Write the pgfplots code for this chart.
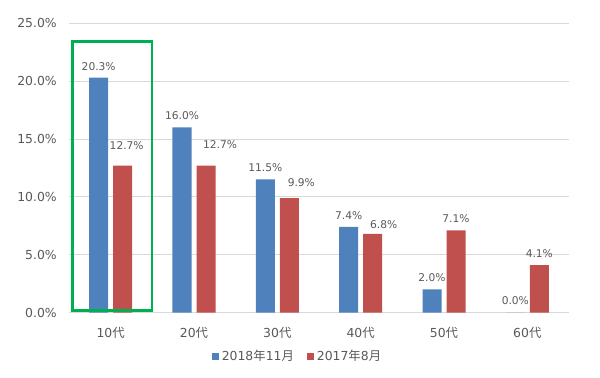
\documentclass[border=0pt]{standalone}
\usepackage{pgfplots}
\pgfplotsset{compat=1.18}
\usepackage{pgfplotstable}
\usepackage{fontspec}
\setmainfont{DejaVu Sans}
\newfontfamily\cjk{Noto Sans CJK JP}
\definecolor{cblue}{HTML}{4F81BD}
\definecolor{cred}{HTML}{C0504D}
\definecolor{ctext}{HTML}{595959}
\definecolor{cgrid}{HTML}{D9D9D9}
\definecolor{cgreen}{HTML}{00B050}

\pgfplotstableread{
x y dx off
0 20.3 0 8.6
1 16.0 0 8.6
2 11.5 0 8.6
3 7.4 0 8.6
4 2.0 0 8.6
5 0.0 0 8.6
}\blue
\pgfplotstableread{
x y dx off
0 12.7 3 14.8
1 12.7 10.5 15.8
2 9.9 9 11.3
3 6.8 8.3 7.1
4 7.1 0 9
5 4.1 0 8.6
}\red

\begin{document}
\begin{tikzpicture}
\path[use as bounding box] (-51.75pt,-48.4pt) rectangle (398.25pt,234.4pt);
\begin{axis}[
  at={(0,0)}, anchor=south west,
  scale only axis, width=375pt, height=216.9pt,
  xmin=-0.5, xmax=5.5, ymin=0, ymax=25,
  axis line style={draw=none},
  major tick length=0pt,
  ymajorgrids, grid style={cgrid, line width=0.75pt},
  ytick={0,5,10,15,20,25},
  yticklabels={0.0\%,5.0\%,10.0\%,15.0\%,20.0\%,25.0\%},
  xtick={0,1,2,3,4,5},
  xticklabels={10{\cjk 代},20{\cjk 代},30{\cjk 代},40{\cjk 代},50{\cjk 代},60{\cjk 代}},
  yticklabel style={font=\fontsize{9.3}{10}\selectfont, text=ctext, inner sep=0pt, xshift=-9pt},
  xticklabel style={font=\fontsize{9.3}{10}\selectfont, text=ctext, inner sep=0pt, anchor=north, yshift=-10.5pt},
  ybar, bar width=14.25pt,
  clip=false,
  nodes near coords={\pgfmathprintnumber[fixed,fixed zerofill,precision=1,assume math mode=true]{\pgfplotspointmeta}\%},
  visualization depends on={\thisrow{dx} \as \dx},
  visualization depends on={\thisrow{off} \as \off},
  nodes near coords style={font=\fontsize{8}{9}\selectfont, text=ctext, anchor=center, inner sep=0pt, xshift=\dx pt, yshift=\off pt},
  legend style={draw=none, fill=none, at={(0.458,-0.152)}, anchor=center, legend columns=2,
    font=\fontsize{9.3}{10}\selectfont, text=ctext,
    /tikz/every even column/.append style={column sep=8pt}},
  legend image code/.code={\fill[#1] (0pt,-2.625pt) rectangle (5.25pt,2.625pt);},
]
\addplot[fill=cblue, draw=none, bar shift=-9pt] table[x=x,y=y] {\blue};
\addplot[fill=cred, draw=none, bar shift=9pt] table[x=x,y=y] {\red};
\legend{2018{\cjk 年}11{\cjk 月}, 2017{\cjk 年}8{\cjk 月}}
\draw[cgreen, line width=2pt] (axis cs:-0.456,0.17) rectangle (axis cs:0.496,23.42);
\end{axis}
\end{tikzpicture}
\end{document}
